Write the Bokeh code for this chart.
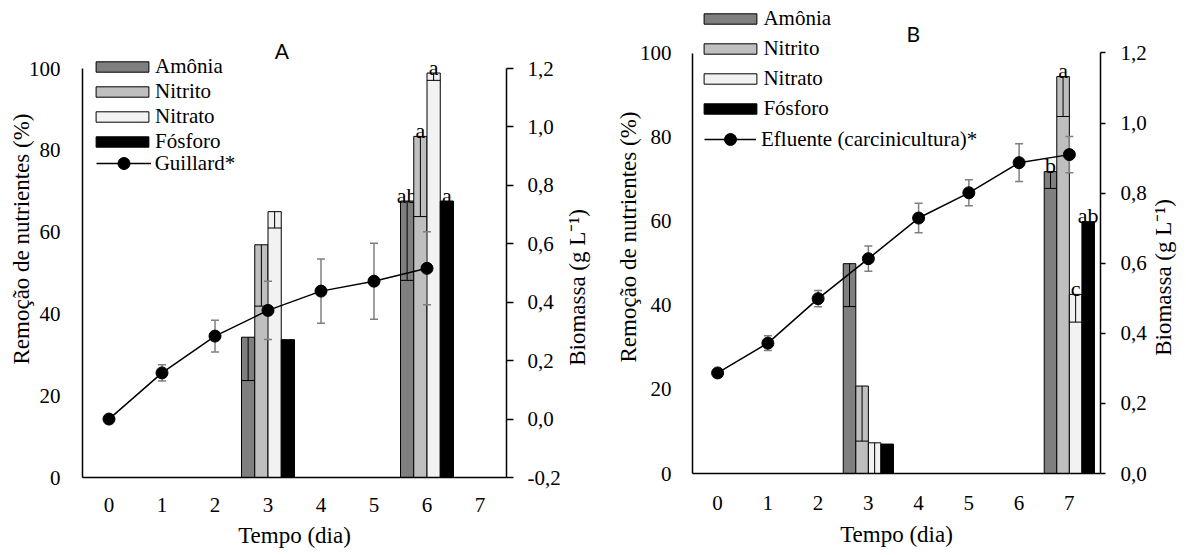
from bokeh.plotting import figure
from bokeh.models import (Range1d, LinearAxis, FixedTicker, CustomJSTickFormatter,
                          Legend, LegendItem, Label, ColumnDataSource, Spacer)
from bokeh.layouts import row
from bokeh.embed import file_html
from bokeh.resources import INLINE
from bokeh.core.properties import value
import math

FONT = "Liberation Serif"

# ---------------- data ----------------
series_names = ["Amônia", "Nitrito", "Nitrato", "Fósforo"]
series_colors = ["#7f7f7f", "#bfbfbf", "#f2f2f2", "#000000"]
left_ticks = [0, 20, 40, 60, 80, 100]
day_ticks = [0, 1, 2, 3, 4, 5, 6, 7]

# Panel A (Guillard*)
a_line_days = [0, 1, 2, 3, 4, 5, 6]
a_biomass = [0.0, 0.158, 0.284, 0.372, 0.438, 0.472, 0.516]
a_biomass_err = [0.0, 0.028, 0.054, 0.100, 0.110, 0.130, 0.125]
a_bar_days = [3, 6]
a_amonia = [34.3, 67.6]
a_amonia_err = [10.6, 19.4]
a_nitrito = [56.9, 83.4]
a_nitrito_err = [15.0, 19.6]
a_nitrato = [65.0, 98.9]
a_nitrato_err = [4.0, 1.8]
a_fosforo = [33.7, 67.6]
a_fosforo_err = [0.0, 0.0]
a_letters = [["", "ab"], ["", "a"], ["", "a"], ["", "a"]]
a_bio_ticks = [-0.2, 0.0, 0.2, 0.4, 0.6, 0.8, 1.0, 1.2]

# Panel B (Efluente)
b_line_days = [0, 1, 2, 3, 4, 5, 6, 7]
b_biomass = [0.287, 0.372, 0.499, 0.613, 0.729, 0.801, 0.887, 0.910]
b_biomass_err = [0.0, 0.021, 0.023, 0.036, 0.042, 0.037, 0.054, 0.052]
b_bar_days = [3, 7]
b_amonia = [49.9, 71.8]
b_amonia_err = [10.2, 4.0]
b_nitrito = [20.8, 94.4]
b_nitrito_err = [13.1, 9.5]
b_nitrato = [7.3, 42.6]
b_nitrato_err = [7.3, 6.6]
b_fosforo = [7.0, 59.9]
b_fosforo_err = [0.0, 0.0]
b_letters = [["", "b"], ["", "a"], ["", "c"], ["", "ab"]]
b_bio_ticks = [0.0, 0.2, 0.4, 0.6, 0.8, 1.0, 1.2]

OFFSETS = [-0.375, -0.125, 0.125, 0.375]
BAR_W = 0.25
BIO_LABEL = "Biomassa (g L\u207b\u00b9)"


def style_text_axis(ax, tick_size="21px", label_size="23px"):
    ax.major_label_text_font = FONT
    ax.major_label_text_font_size = tick_size
    ax.major_label_text_color = "black"
    ax.axis_label_text_font = FONT
    ax.axis_label_text_font_size = label_size
    ax.axis_label_text_font_style = "normal"
    ax.axis_label_text_color = "black"
    ax.minor_tick_out = 0
    ax.minor_tick_in = 0
    ax.axis_line_width = 1.5
    ax.major_tick_line_width = 1.5


def build(cfg):
    p = figure(frame_width=cfg["fw"], frame_height=cfg["fh"],
               x_range=Range1d(-0.5, cfg["xmax"]), y_range=Range1d(0, cfg["ytop"]),
               output_backend="svg", toolbar_location=None,
               min_border_left=cfg["mbl"], min_border_right=cfg["mbr"],
               min_border_top=0, min_border_bottom=cfg["mbb"])
    p.outline_line_color = None
    p.xgrid.visible = False
    p.ygrid.visible = False
    p.extra_y_ranges = {"bio": Range1d(cfg["bio_lo"], cfg["bio_top"])}

    ya = p.yaxis[0]
    style_text_axis(ya)
    ya.ticker = FixedTicker(ticks=left_ticks)
    ya.bounds = (0, 100)
    ya.major_tick_out = 0
    ya.major_tick_in = 0
    ya.major_label_standoff = cfg["l_std"]
    ya.axis_label = "Remoção de nutrientes (%)"
    ya.axis_label_standoff = cfg["l_lab_std"]

    xa = p.xaxis[0]
    style_text_axis(xa)
    xa.ticker = FixedTicker(ticks=day_ticks)
    xa.major_tick_out = 0
    xa.major_tick_in = 0
    xa.major_label_standoff = cfg["x_std"]
    xa.axis_label = "Tempo (dia)"
    xa.axis_label_standoff = cfg["x_lab_std"]

    ra = LinearAxis(y_range_name="bio", ticker=FixedTicker(ticks=cfg["bio_ticks"]),
                    formatter=CustomJSTickFormatter(code="return tick.toFixed(1).replace('.', ',');"))
    style_text_axis(ra)
    ra.bounds = (cfg["bio_lo"], cfg["bio_hi"])
    ra.major_tick_in = 0
    ra.major_tick_out = cfg["r_tick"]
    ra.major_label_standoff = cfg["r_std"]
    p.add_layout(ra, "right")

    bar_renderers = []
    for k in range(4):
        xs = [d + OFFSETS[k] for d in cfg["bar_days"]]
        vals = cfg["bars"][k]
        errs = cfg["errs"][k]
        src = ColumnDataSource(dict(x=xs, top=vals, lab=cfg["letters"][k]))
        r = p.vbar(x="x", top="top", width=BAR_W, source=src,
                   fill_color=series_colors[k], line_color="black", line_width=1)
        bar_renderers.append(r)
        ex = [x for x, e in zip(xs, errs) if e > 0]
        et = [t for t, e in zip(vals, errs) if e > 0]
        el = [t - e for t, e in zip(vals, errs) if e > 0]
        if ex:
            p.segment(x0=ex, y0=et, x1=ex, y1=el, line_color="black", line_width=1)
            p.segment(x0=[x - BAR_W / 2 for x in ex], y0=el,
                      x1=[x + BAR_W / 2 for x in ex], y1=el,
                      line_color="black", line_width=1)
        p.text(x="x", y="top", text="lab", source=src, text_align="center",
               text_baseline="alphabetic", y_offset=-6,
               text_font=value(FONT), text_font_size=value("22px"), text_color="black")

    days, bio, berr = cfg["line_days"], cfg["bio"], cfg["bio_err"]
    ed = [d for d, e in zip(days, berr) if e > 0]
    elo = [v - e for v, e in zip(bio, berr) if e > 0]
    ehi = [v + e for v, e in zip(bio, berr) if e > 0]
    p.segment(x0=ed, y0=elo, x1=ed, y1=ehi, y_range_name="bio",
              line_color="#7f7f7f", line_width=1.5)
    p.scatter(x=ed, y=elo, marker="dash", size=8, line_color="#7f7f7f",
              line_width=1.5, y_range_name="bio")
    p.scatter(x=ed, y=ehi, marker="dash", size=8, line_color="#7f7f7f",
              line_width=1.5, y_range_name="bio")
    lr = p.line(x=days, y=bio, y_range_name="bio", line_color="black", line_width=1.5)
    sr = p.scatter(x=days, y=bio, y_range_name="bio", marker="circle", size=12,
                   fill_color="black", line_color="black")

    leg1 = Legend(items=[LegendItem(label=series_names[k], renderers=[bar_renderers[k]])
                         for k in range(4)],
                  location=cfg["leg1_loc"], orientation="vertical",
                  glyph_width=66, glyph_height=13, label_height=cfg["leg1_lh"],
                  label_standoff=0, spacing=cfg["leg1_sp"], padding=0, margin=0,
                  border_line_color=None, background_fill_alpha=0,
                  label_text_font=FONT, label_text_font_size="21px",
                  label_text_color="black")
    leg2 = Legend(items=[LegendItem(label=cfg["line_label"], renderers=[lr, sr])],
                  location=cfg["leg2_loc"], orientation="vertical",
                  glyph_width=cfg["leg2_gw"], glyph_height=30, label_height=30,
                  label_standoff=cfg["leg2_std"], spacing=0, padding=0, margin=0,
                  border_line_color=None, background_fill_alpha=0,
                  label_text_font=FONT, label_text_font_size="21px",
                  label_text_color="black")
    p.add_layout(leg1)
    p.add_layout(leg2)

    p.add_layout(Label(x=cfg["title_x"], y=cfg["title_y"], text=cfg["title"],
                       text_align="center", text_baseline="middle", text_font="Lato",
                       text_font_size="21px", text_color="black"))
    return p


def side_label(width, frame_h, mbb, y_center_from_top):
    f = figure(frame_width=width, frame_height=frame_h,
               x_range=Range1d(0, 1), y_range=Range1d(0, frame_h),
               x_axis_type=None, y_axis_type=None,
               output_backend="svg", toolbar_location=None,
               min_border_left=0, min_border_right=0, min_border_top=0,
               min_border_bottom=mbb)
    f.outline_line_color = None
    f.add_layout(Label(x=0.5, y=frame_h - y_center_from_top, text=BIO_LABEL,
                       angle=math.pi / 2, text_align="center", text_baseline="middle",
                       text_font=FONT, text_font_size="23px", text_color="black"))
    return f


pa = build(dict(
    title="A", title_x=3.262, title_y=104.4, line_label="Guillard*",
    line_days=a_line_days, bio=a_biomass, bio_err=a_biomass_err,
    bar_days=a_bar_days, bars=[a_amonia, a_nitrito, a_nitrato, a_fosforo],
    errs=[a_amonia_err, a_nitrito_err, a_nitrato_err, a_fosforo_err], letters=a_letters,
    xmax=7.5, ytop=116.63, bio_lo=-0.2, bio_hi=1.2, bio_top=1.4328, bio_ticks=a_bio_ticks,
    fw=424, fh=477, mbl=75, mbr=53, mbb=70,
    l_std=22, l_lab_std=-8, x_std=20, x_lab_std=8, r_tick=7, r_std=14,
    leg1_loc=(7.1, 323.2), leg1_lh=24, leg1_sp=0,
    leg2_loc=(13.7, 298.7), leg2_gw=55, leg2_std=4))

la = side_label(28, 477, 70, 287)

pb = build(dict(
    title="B", title_x=3.894, title_y=104.57, line_label="Efluente (carcinicultura)*",
    line_days=b_line_days, bio=b_biomass, bio_err=b_biomass_err,
    bar_days=b_bar_days, bars=[b_amonia, b_nitrito, b_nitrato, b_fosforo],
    errs=[b_amonia_err, b_nitrito_err, b_nitrato_err, b_fosforo_err], letters=b_letters,
    xmax=7.62, ytop=112.49, bio_lo=0.0, bio_hi=1.2, bio_top=1.3498, bio_ticks=b_bio_ticks,
    fw=408, fh=473, mbl=101, mbr=47, mbb=74,
    l_std=21, l_lab_std=-4, x_std=22, x_lab_std=9, r_tick=5, r_std=15,
    leg1_loc=(5.4, 351.7), leg1_lh=25, leg1_sp=5,
    leg2_loc=(12, 318.7), leg2_gw=52, leg2_std=5))

lb = side_label(28, 473, 74, 277)

layout = row(Spacer(width=5, height=1), pa, la, pb, lb)
open("out.html", "w").write(file_html(layout, INLINE))
